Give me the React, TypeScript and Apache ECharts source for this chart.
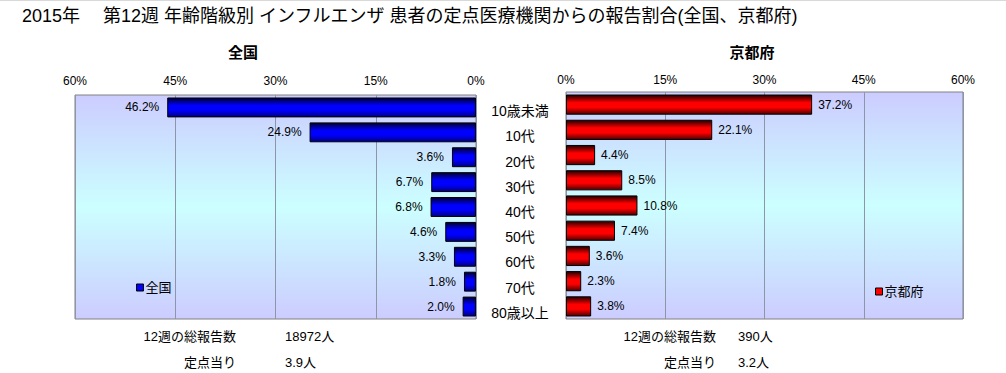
import React, { useEffect, useRef } from "react";
import * as echarts from "echarts";

const categories = ["10歳未満", "10代", "20代", "30代", "40代", "50代", "60代", "70代", "80歳以上"];
const zenkoku = [46.2, 24.9, 3.6, 6.7, 6.8, 4.6, 3.3, 1.8, 2.0];
const kyoto = [37.2, 22.1, 4.4, 8.5, 10.8, 7.4, 3.6, 2.3, 3.8];
const axisMax = 60;
const axisInterval = 15;
const titleText = "2015年　 第12週 年齢階級別 インフルエンザ 患者の定点医療機関からの報告割合(全国、京都府)";
const leftStats = { total: "18972人", perPoint: "3.9人" };
const rightStats = { total: "390人", perPoint: "3.2人" };

const FONT = "'Liberation Sans', 'Noto Sans CJK JP', sans-serif";

export default function App() {
  const ref = useRef<HTMLDivElement>(null);
  useEffect(() => {
    if (!ref.current) return;
    const chart = echarts.init(ref.current, null, { renderer: "svg" });
    const bgGrad = new echarts.graphic.LinearGradient(0, 0, 0, 1, [
      { offset: 0, color: "#ccccff" },
      { offset: 0.5, color: "#ccffff" },
      { offset: 1, color: "#ccccff" },
    ]);
    const blueGrad = new echarts.graphic.LinearGradient(0, 0, 0, 1, [
      { offset: 0, color: "#000030" },
      { offset: 0.4, color: "#0000ff" },
      { offset: 0.65, color: "#0000ff" },
      { offset: 1, color: "#000080" },
    ]);
    const redGrad = new echarts.graphic.LinearGradient(0, 0, 0, 1, [
      { offset: 0, color: "#200000" },
      { offset: 0.4, color: "#ff0000" },
      { offset: 0.65, color: "#ff0000" },
      { offset: 1, color: "#500000" },
    ]);
    const pct = (p: any) => p.value.toFixed(1) + "%";
    const statText = (x: number, y: number, text: string, align: string) => ({
      type: "text",
      x,
      y,
      style: { text, fill: "#000", font: `13px ${FONT}`, align, verticalAlign: "middle" },
    });
    chart.setOption({
      animation: false,
      textStyle: { fontFamily: FONT },
      title: {
        text: titleText,
        left: 17,
        top: 2,
        textStyle: { fontSize: 18, fontWeight: "normal", color: "#000", fontFamily: FONT },
      },
      legend: [
        {
          data: ["全国"],
          left: 131,
          top: 276,
          icon: "rect",
          itemWidth: 7,
          itemHeight: 7,
          textStyle: { fontSize: 13, color: "#000", padding: [0, 0, 0, -3] },
          itemStyle: { color: "#0000ff", borderColor: "#000", borderWidth: 1 },
        },
        {
          data: ["京都府"],
          left: 870,
          top: 280,
          icon: "rect",
          itemWidth: 7,
          itemHeight: 7,
          textStyle: { fontSize: 13, color: "#000", padding: [0, 0, 0, -3] },
          itemStyle: { color: "#ff0000", borderColor: "#000", borderWidth: 1 },
        },
      ],
      grid: [
        {
          left: 75,
          top: 95,
          width: 401,
          height: 224,
          show: true,
          backgroundColor: bgGrad,
          borderColor: "#808080",
          borderWidth: 1,
        },
        {
          left: 566,
          top: 92,
          width: 397,
          height: 227,
          show: true,
          backgroundColor: bgGrad,
          borderColor: "#808080",
          borderWidth: 1,
        },
      ],
      xAxis: [
        {
          gridIndex: 0,
          type: "value",
          inverse: true,
          position: "top",
          min: 0,
          max: axisMax,
          interval: axisInterval,
          axisLine: { show: false },
          axisTick: { show: false },
          axisLabel: { formatter: "{value}%", fontSize: 12, color: "#000", margin: 8 },
          splitLine: { lineStyle: { color: "#8c96a6", width: 1 } },
        },
        {
          gridIndex: 1,
          type: "value",
          position: "top",
          min: 0,
          max: axisMax,
          interval: axisInterval,
          axisLine: { show: false },
          axisTick: { show: false },
          axisLabel: { formatter: "{value}%", fontSize: 12, color: "#000", margin: 6 },
          splitLine: { lineStyle: { color: "#8c96a6", width: 1 } },
        },
      ],
      yAxis: [
        {
          gridIndex: 0,
          type: "category",
          data: categories,
          inverse: true,
          position: "right",
          axisLine: { show: false },
          axisTick: { show: false },
          axisLabel: { show: false },
        },
        {
          gridIndex: 1,
          type: "category",
          data: categories,
          inverse: true,
          position: "left",
          axisLine: { show: false },
          axisTick: { show: false },
          axisLabel: {
            fontSize: 14,
            color: "#000",
            align: "center",
            verticalAlign: "top",
            lineHeight: 13,
            margin: 46,
          },
        },
      ],
      series: [
        {
          name: "全国",
          type: "bar",
          xAxisIndex: 0,
          yAxisIndex: 0,
          data: zenkoku,
          barCategoryGap: "20%",
          itemStyle: { color: blueGrad, borderColor: "#000", borderWidth: 1 },
          label: { show: true, position: "left", distance: 8, formatter: pct, fontSize: 12, color: "#000" },
        },
        {
          name: "京都府",
          type: "bar",
          xAxisIndex: 1,
          yAxisIndex: 1,
          data: kyoto,
          barCategoryGap: "20%",
          itemStyle: { color: redGrad, borderColor: "#000", borderWidth: 1 },
          label: { show: true, position: "right", distance: 6, formatter: pct, fontSize: 12, color: "#000" },
        },
      ],
      graphic: [
        { type: "line", shape: { x1: 0, y1: 0.5, x2: 1006, y2: 0.5 }, style: { stroke: "#d9d9d9", lineWidth: 1 } },
        {
          type: "text",
          x: 243,
          y: 52,
          style: { text: "全国", fill: "#000", font: `bold 15px ${FONT}`, align: "center", verticalAlign: "middle" },
        },
        {
          type: "text",
          x: 752,
          y: 52,
          style: { text: "京都府", fill: "#000", font: `bold 15px ${FONT}`, align: "center", verticalAlign: "middle" },
        },
        statText(236, 336, "12週の総報告数", "right"),
        statText(285, 336, leftStats.total, "left"),
        statText(236, 362, "定点当り", "right"),
        statText(285, 362, leftStats.perPoint, "left"),
        statText(716, 336, "12週の総報告数", "right"),
        statText(738, 336, rightStats.total, "left"),
        statText(716, 362, "定点当り", "right"),
        statText(738, 362, rightStats.perPoint, "left"),
      ],
    });
    return () => chart.dispose();
  }, []);
  return (
    <div
      ref={ref}
      style={{ position: "fixed", left: 0, top: 0, width: 1006, height: 373, background: "#fff" }}
    />
  );
}
